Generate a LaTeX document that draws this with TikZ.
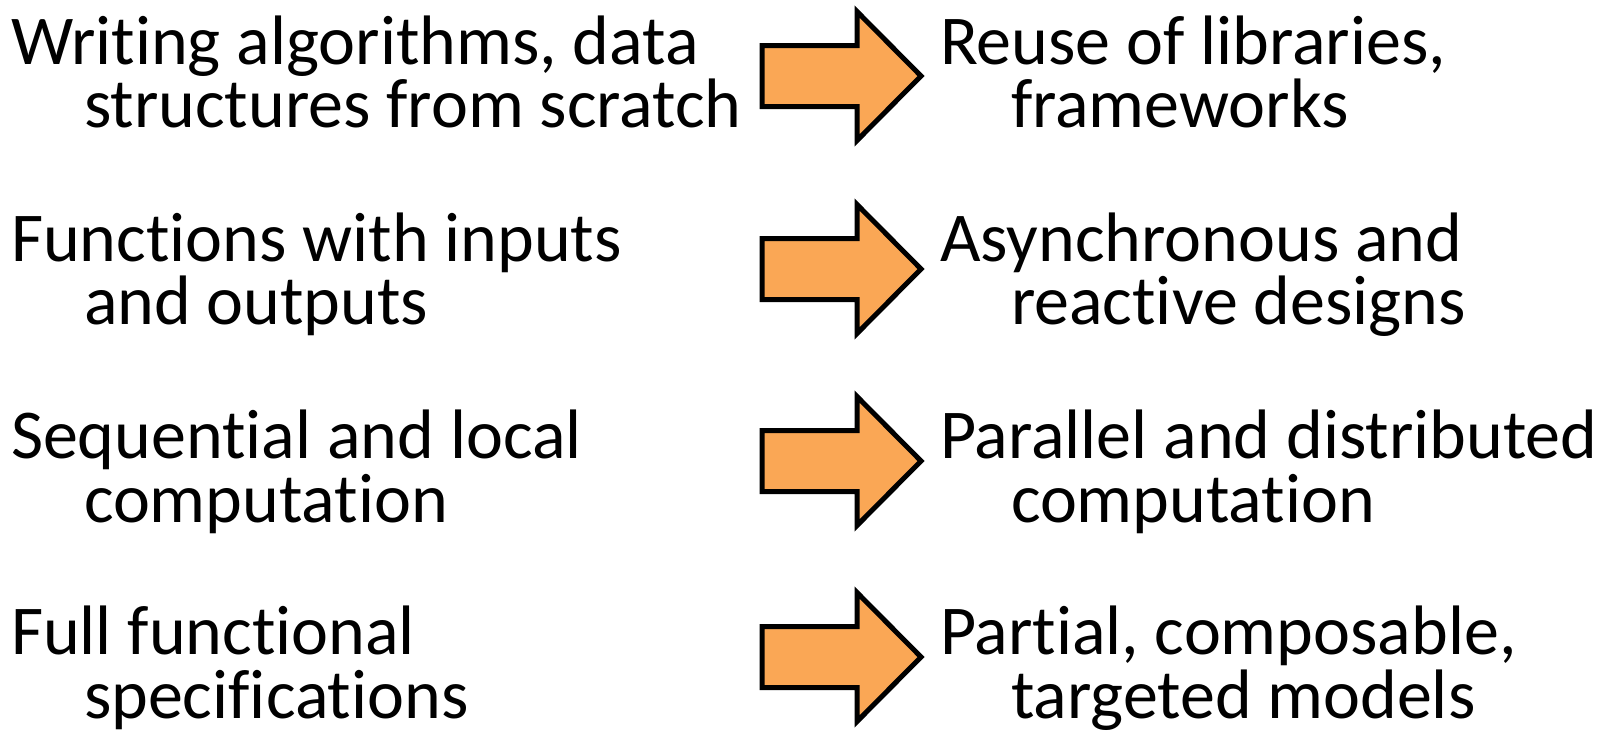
\documentclass[tikz,border=0pt]{standalone}
\usepackage{fontspec}
\setmainfont[Ligatures=NoCommon]{Carlito}
\definecolor{arrowfill}{RGB}{250,167,85}
\tikzset{
  txt/.style={anchor=base west, inner sep=0pt, outer sep=0pt, font=\fontsize{35pt}{38pt}\selectfont},
  arrowshape/.style={draw=black, fill=arrowfill, line width=2.5pt, line join=miter},
  pics/bigarrow/.style={code={
    \path[arrowshape] (0,-30.5) -- (95,-30.5) -- (95,-64.5) -- (159,0) -- (95,64.5) -- (95,30.5) -- (0,30.5) -- cycle;
  }}
}
\begin{document}
\begin{tikzpicture}[x=0.5pt,y=-0.5pt]
\useasboundingbox (0,0) rectangle (1600,735);
% left column
\node[txt] (l1a) at (11,64) {Writing algorithms, data};
\node[txt] (l1b) at (84,127) {structures from scratch};
\node[txt] (l2a) at (11,261) {Functions with inputs};
\node[txt] (l2b) at (84,324) {and outputs};
\node[txt] (l3a) at (11,458) {Sequential and local};
\node[txt] (l3b) at (84,522) {computation};
\node[txt] (l4a) at (11,654) {Full functional};
\node[txt] (l4b) at (84,718) {specifications};
% arrows
\pic (a1) at (762,76) {bigarrow};
\pic (a2) at (762,269) {bigarrow};
\pic (a3) at (762,461) {bigarrow};
\pic (a4) at (762,657) {bigarrow};
% right column
\node[txt] (r1a) at (940,64) {Reuse of libraries,};
\node[txt] (r1b) at (1011,127) {frameworks};
\node[txt] (r2a) at (940,261) {Asynchronous and};
\node[txt] (r2b) at (1011,324) {reactive designs};
\node[txt] (r3a) at (940,458) {Parallel and distributed};
\node[txt] (r3b) at (1011,522) {computation};
\node[txt] (r4a) at (940,654) {Partial, composable,};
\node[txt] (r4b) at (1011,718) {targeted models};
\end{tikzpicture}
\end{document}
